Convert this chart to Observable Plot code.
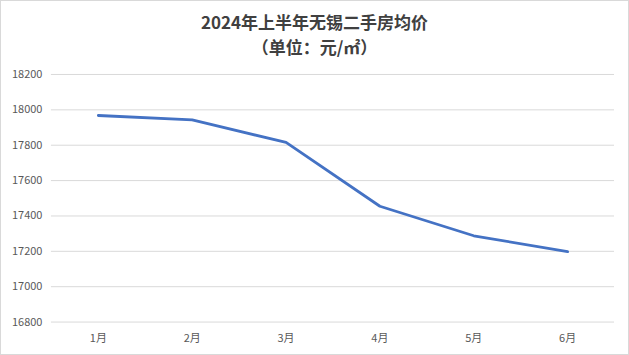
<!DOCTYPE html>
<html>
<head>
<meta charset="utf-8">
<script src="https://cdn.jsdelivr.net/npm/d3@7"></script>
<script src="https://cdn.jsdelivr.net/npm/@observablehq/plot@0.6"></script>
<style>
  html, body { margin: 0; padding: 0; background: #fff; }
  #wrap { width: 629px; height: 355px; box-sizing: border-box; border: 1px solid #d9d9d9; position: relative; overflow: hidden; font-family: "Noto Sans CJK SC", "Noto Sans", sans-serif; }
  .t { position: absolute; left: 0; width: 100%; text-align: center; font-weight: bold; font-size: 17px; line-height: 25px; height: 25px; color: #404040; }
  #title { top: 8px; }
  #subtitle { top: 33px; }
  #chart { position: absolute; top: 58px; left: -1px; }
</style>
</head>
<body>
<div id="wrap">
  <div id="title" class="t">2024年上半年无锡二手房均价</div>
  <div id="subtitle" class="t">（单位：元/㎡）</div>
  <div id="chart"></div>
</div>
<script>
const months = ["1月", "2月", "3月", "4月", "5月", "6月"];
const prices = [17968, 17943, 17816, 17455, 17288, 17198];
const yTicks = [16800, 17000, 17200, 17400, 17600, 17800, 18000, 18200];

const data = months.map((m, i) => ({month: m, price: prices[i]}));

const chart = Plot.plot({
  width: 629,
  height: 296,
  marginTop: 15,
  marginBottom: 33,
  marginLeft: 51,
  marginRight: 14,
  style: {fontFamily: "'Noto Sans CJK SC', 'Noto Sans', sans-serif", fontSize: "11px", color: "#595959", background: "transparent"},
  x: {domain: months, padding: 0.5, label: null},
  y: {domain: [16800, 18200], label: null},
  marks: [
    Plot.gridY(yTicks, {stroke: "#d9d9d9", strokeOpacity: 1, strokeWidth: 1}),
    Plot.axisY(yTicks, {tickSize: 0, tickPadding: 9, fill: "#595959", fontSize: 11, tickFormat: d => String(d)}),
    Plot.axisX({tickSize: 0, tickPadding: 12, fill: "#595959", fontSize: 11}),
    Plot.line(data, {x: "month", y: "price", stroke: "#4472C4", strokeWidth: 2.8, strokeLinecap: "round", strokeLinejoin: "round"})
  ]
});
document.getElementById("chart").appendChild(chart);
</script>
</body>
</html>
